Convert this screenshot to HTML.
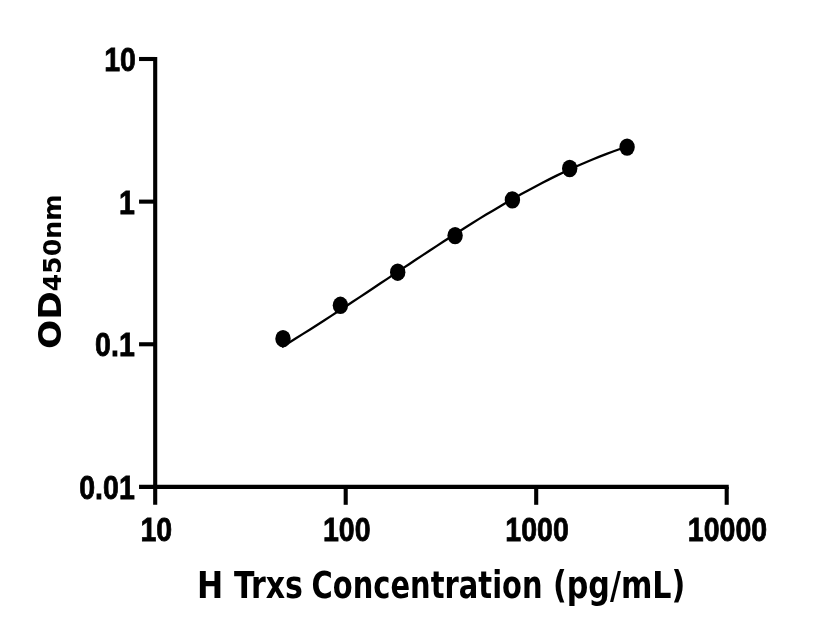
<!DOCTYPE html>
<html><head><meta charset="utf-8"><title>H Trxs Concentration</title>
<style>
html,body{margin:0;padding:0;background:#fff;}
body{width:816px;height:640px;overflow:hidden;position:relative;}
svg{position:absolute;left:0;top:0;display:block;}
text{font-family:"Liberation Sans",sans-serif;font-weight:bold;fill:#000;}
text.ytl{font-family:"DejaVu Sans","Liberation Sans",sans-serif;}
text.ttl{font-family:"DejaVu Sans Condensed","DejaVu Sans","Liberation Sans",sans-serif;}
</style></head><body>
<svg width="816" height="640" viewBox="0 0 816 640">
<rect width="816" height="640" fill="#fff"/>
<g stroke="#000" stroke-width="4.1" fill="none" stroke-linecap="butt">
<path d="M155.2 56.95 V504.8"/>
<path d="M139.05 486.9 H728.75"/>
<path d="M139.05 59.0 H155.2"/>
<path d="M139.05 201.63 H155.2"/>
<path d="M139.05 344.27 H155.2"/>
<path d="M345.70 486.9 V504.8"/>
<path d="M536.20 486.9 V504.8"/>
<path d="M726.7 486.9 V504.8"/>
</g>
<polyline points="281.9,347.0 288.9,342.7 296.0,338.3 303.0,333.9 310.1,329.5 317.1,325.0 324.1,320.5 331.2,315.9 338.2,311.3 345.3,306.7 352.3,302.0 359.4,297.4 366.4,292.7 373.5,288.0 380.5,283.3 387.6,278.6 394.6,273.9 401.6,269.1 408.7,264.5 415.7,259.8 422.8,255.1 429.8,250.5 436.9,245.9 443.9,241.3 451.0,236.7 458.0,232.2 465.0,227.7 472.1,223.3 479.1,218.9 486.2,214.6 493.2,210.4 500.3,206.2 507.3,202.1 514.4,198.0 521.4,194.1 528.5,190.2 535.5,186.4 542.5,182.7 549.6,179.1 556.6,175.6 563.7,172.2 570.7,168.9 577.8,165.7 584.8,162.7 591.9,159.7 598.9,156.9 606.0,154.1 613.0,151.5 620.0,149.0 627.1,146.6" fill="none" stroke="#000" stroke-width="2.3" stroke-linejoin="round"/>
<g fill="#000">
<ellipse cx="283.0" cy="338.7" rx="7.7" ry="8.7"/>
<ellipse cx="340.4" cy="305.3" rx="7.7" ry="8.7"/>
<ellipse cx="397.7" cy="272.2" rx="7.7" ry="8.7"/>
<ellipse cx="455.1" cy="235.6" rx="7.7" ry="8.7"/>
<ellipse cx="512.4" cy="199.9" rx="7.7" ry="8.7"/>
<ellipse cx="569.7" cy="168.5" rx="7.7" ry="8.7"/>
<ellipse cx="627.1" cy="147.1" rx="7.7" ry="8.7"/>
</g>
<text transform="translate(136 71) scale(0.86 1)" font-size="33.2" text-anchor="end" stroke="#000" stroke-width="0.8">10</text>
<text transform="translate(134.8 213.6) scale(0.86 1)" font-size="33.2" text-anchor="end" stroke="#000" stroke-width="0.8">1</text>
<text transform="translate(134.8 356.3) scale(0.86 1)" font-size="33.2" text-anchor="end" stroke="#000" stroke-width="0.8">0.1</text>
<text transform="translate(134.8 498.9) scale(0.86 1)" font-size="33.2" text-anchor="end" stroke="#000" stroke-width="0.8">0.01</text>
<text transform="translate(156.3 541.2) scale(0.86 1)" font-size="33.2" text-anchor="middle" stroke="#000" stroke-width="0.8">10</text>
<text transform="translate(346.7 541.2) scale(0.86 1)" font-size="33.2" text-anchor="middle" stroke="#000" stroke-width="0.8">100</text>
<text transform="translate(537.1 541.2) scale(0.86 1)" font-size="33.2" text-anchor="middle" stroke="#000" stroke-width="0.8">1000</text>
<text transform="translate(727.5 541.2) scale(0.86 1)" font-size="33.2" text-anchor="middle" stroke="#000" stroke-width="0.8">10000</text>
<text class="ttl" y="598" font-size="36.4" lengthAdjust="spacingAndGlyphs"><tspan x="197.0" textLength="26.23" lengthAdjust="spacingAndGlyphs">H</tspan> <tspan x="234.1" textLength="68.8" lengthAdjust="spacingAndGlyphs">Trxs</tspan> <tspan x="311.6" textLength="230.97" lengthAdjust="spacingAndGlyphs">Concentration</tspan> <tspan x="552.95" textLength="132.35" lengthAdjust="spacingAndGlyphs">(pg/mL)</tspan></text>
<text class="ytl" transform="translate(61.4 348.9) rotate(-90) scale(1.06 1)" font-size="32.4">OD<tspan x="54.15" font-size="24.4" textLength="91.5" lengthAdjust="spacingAndGlyphs">450nm</tspan></text>
</svg>
</body></html>
